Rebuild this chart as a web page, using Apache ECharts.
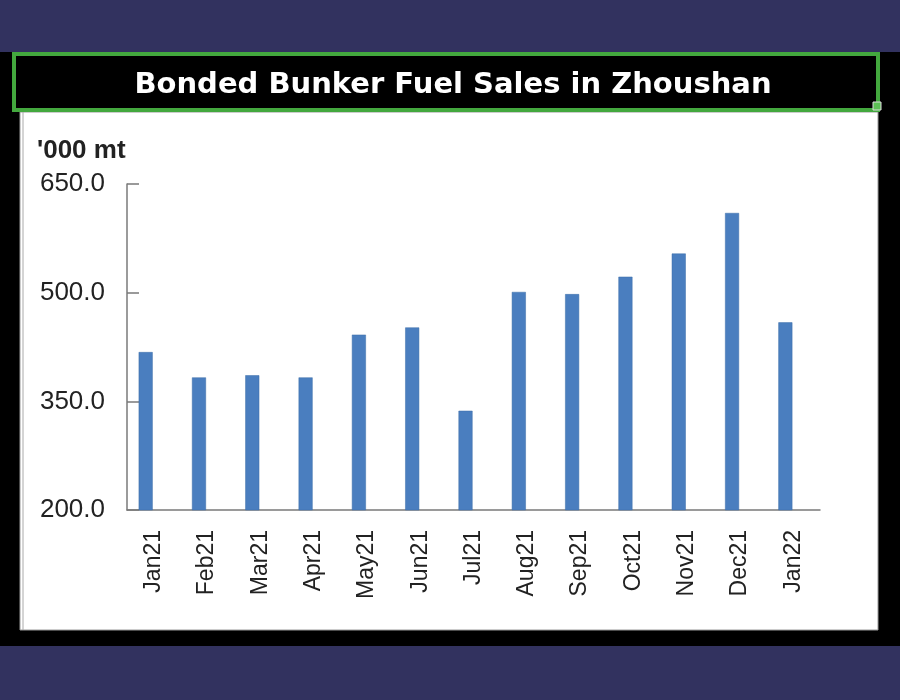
<!DOCTYPE html>
<html>
<head>
<meta charset="utf-8">
<title>Bonded Bunker Fuel Sales in Zhoushan</title>
<script src="https://cdn.jsdelivr.net/npm/echarts@6/dist/echarts.min.js"></script>
<style>
    html, body { margin: 0; padding: 0; background: #32325f; }
    #chart { width: 900px; height: 700px; }
</style>
</head>
<body>
<div id="chart"></div>
<script>
// monthly sales, '000 mt
const months = ['Jan21', 'Feb21', 'Mar21', 'Apr21', 'May21', 'Jun21', 'Jul21',
    'Aug21', 'Sep21', 'Oct21', 'Nov21', 'Dec21', 'Jan22'];
const sales = [418, 383, 386, 383, 442, 452, 337, 501, 498, 522, 554, 610, 459];
const yTicks = [200, 350, 500, 650];

const barColor = '#4a7ebf';
const axisColor = '#7a7a7a';
const labelColor = '#222';

let chart = echarts.init(document.getElementById('chart'));

let option = {
    backgroundColor: '#32325f',
    animation: false,
    title: {
        text: 'Bonded Bunker Fuel Sales in Zhoushan',
        left: 448,
        top: 66,
        textAlign: 'center',
        textStyle: {
            color: '#fff',
            fontFamily: 'DejaVu Sans',
            fontWeight: 'bold',
            fontSize: 29
        }
    },
    graphic: [
        // black frame
        { type: 'rect', z: -10, shape: { x: 0, y: 52, width: 900, height: 594 }, style: { fill: '#000' } },
        // white plot panel
        { type: 'rect', z: -9, shape: { x: 20, y: 112, width: 858, height: 518 }, style: { fill: '#fff', stroke: '#999', lineWidth: 1 } },
        { type: 'line', z: -8, shape: { x1: 23, y1: 112, x2: 23, y2: 630 }, style: { stroke: '#aaa', lineWidth: 1 } },
        // green title box
        { type: 'rect', z: -8, shape: { x: 14, y: 54, width: 864, height: 56 }, style: { fill: '#000', stroke: '#43a83e', lineWidth: 4 } },
        { type: 'rect', z: -7, shape: { x: 873, y: 102, width: 8, height: 8 }, style: { fill: '#5cbf55', stroke: '#ddd', lineWidth: 1 } },
        {
            type: 'text', left: 37, top: 138,
            style: { text: "'000 mt", fill: labelColor, font: 'bold 26px "Liberation Sans"' }
        }
    ],
    grid: {
        left: 127,
        right: 80,
        top: 184,
        bottom: 190
    },
    xAxis: {
        type: 'category',
        data: months,
        axisLine: { lineStyle: { color: axisColor, width: 1.5 } },
        axisTick: { inside: true, length: 6, lineStyle: { color: axisColor, width: 1.5 } },
        axisLabel: {
            rotate: 90,
            margin: 20,
            color: labelColor,
            fontFamily: 'Liberation Sans',
            fontSize: 23
        }
    },
    yAxis: {
        type: 'value',
        min: yTicks[0],
        max: yTicks[yTicks.length - 1],
        interval: 150,
        splitLine: { show: false },
        axisLine: { show: true, lineStyle: { color: axisColor, width: 1.5 } },
        axisTick: { show: true, inside: true, length: 12, lineStyle: { color: axisColor, width: 1.5 } },
        axisLabel: {
            margin: 22,
            color: labelColor,
            fontFamily: 'Liberation Sans',
            fontSize: 26,
            formatter: v => v.toFixed(1)
        }
    },
    series: [
        {
            name: 'Sales',
            type: 'bar',
            data: sales,
            barWidth: 14,
            barGap: '14%',
            itemStyle: { color: barColor, borderColor: '#3d6ea8', borderWidth: 0.5 }
        },
        {
            // empty slot so the bars sit left of the category centre, as in the source
            name: 'spacer',
            type: 'bar',
            data: [],
            barWidth: 14,
            silent: true
        }
    ]
};

chart.setOption(option, true);
window.addEventListener('resize', function () {
    chart.resize();
});
</script>
</body>
</html>
